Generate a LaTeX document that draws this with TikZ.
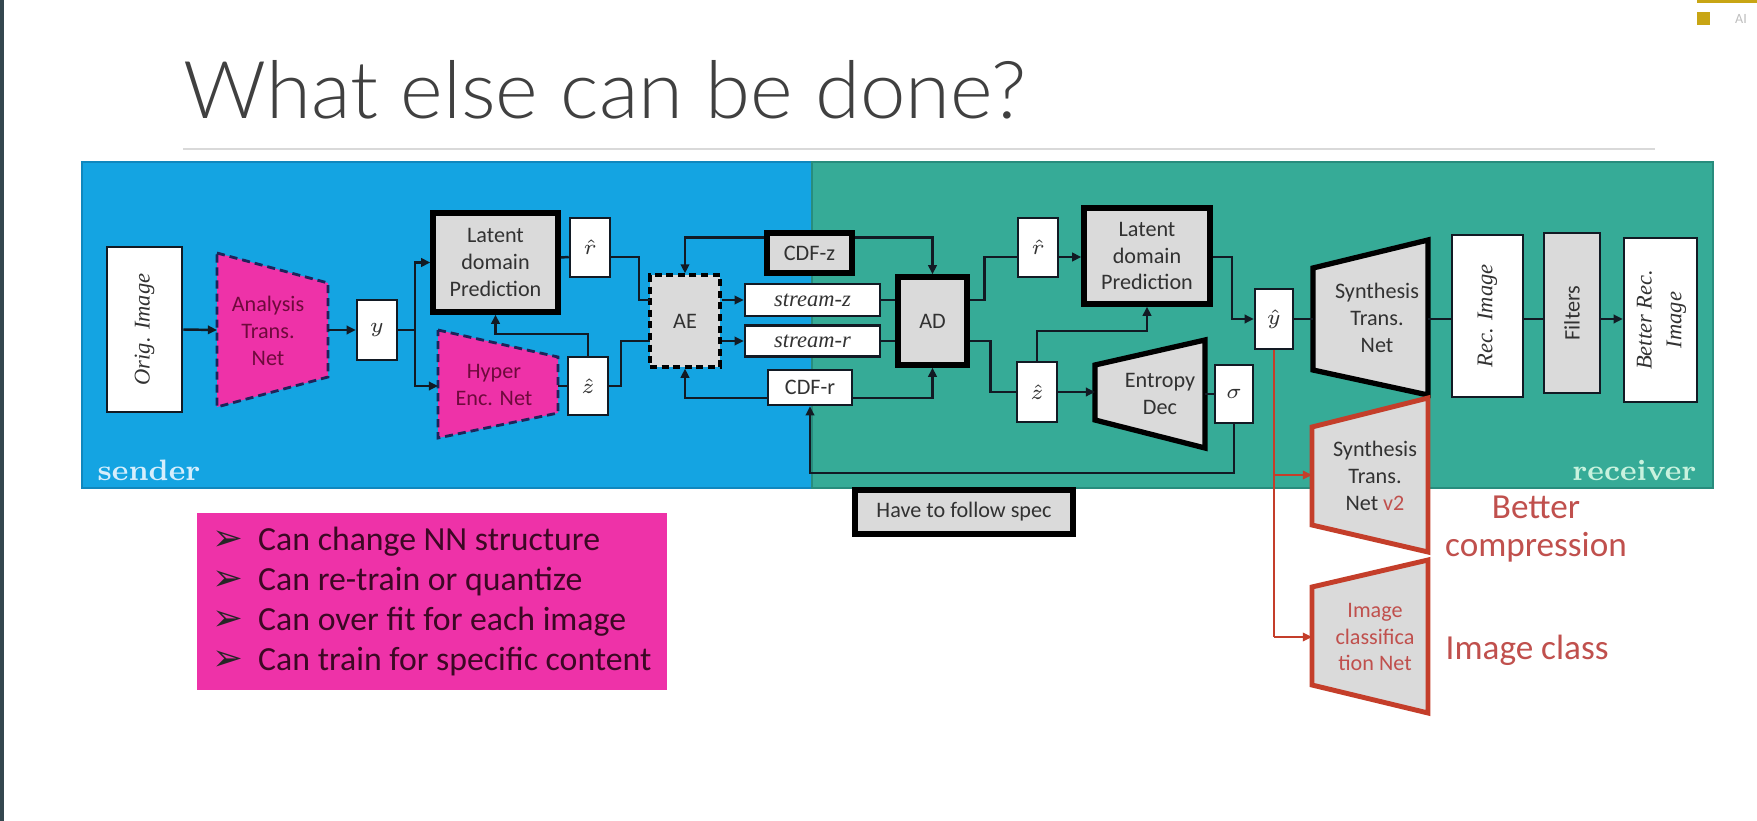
\documentclass[tikz,border=0pt]{standalone}
\usepackage{fontspec}
\newfontfamily\calib{Carlito}
\newfontfamily\dejavu{DejaVu Sans}
\newfontfamily\serifit{Liberation Serif}
\IfFontExistsTF{Lato Light}{\newfontfamily\titlefont{Lato Light}}{\newfontfamily\titlefont{Carlito}}
\usetikzlibrary{arrows.meta,calc}
\definecolor{bluep}{RGB}{20,164,226}
\definecolor{blueb}{RGB}{16,135,190}
\definecolor{greenp}{RGB}{54,171,151}
\definecolor{greenb}{RGB}{40,140,125}
\definecolor{mag}{RGB}{238,50,168}
\definecolor{magtext}{RGB}{110,10,60}
\definecolor{bullettext}{RGB}{60,8,36}
\definecolor{boxgray}{RGB}{218,218,218}
\definecolor{lined}{RGB}{18,26,36}
\definecolor{redc}{RGB}{192,80,77}
\definecolor{redb}{RGB}{196,62,42}
\definecolor{navyd}{RGB}{30,36,90}
\definecolor{titlec}{RGB}{64,64,64}
\definecolor{rulec}{RGB}{217,217,217}
\definecolor{stripc}{RGB}{52,71,79}
\definecolor{goldc}{RGB}{200,165,20}
\definecolor{senderc}{RGB}{214,238,252}
\definecolor{receiverc}{RGB}{200,242,222}
\definecolor{txtg}{RGB}{50,50,50}
\newcommand\blt{\makebox[8pt][l]{\dejavu\fontsize{10.5}{11}\selectfont\color{black!85}➢}\hspace{5pt}}
\begin{document}
\begin{tikzpicture}[x=0.01cm,y=-0.01cm,
  lbl/.style={font=\calib\fontsize{6.3}{7.6}\selectfont, text=txtg, align=center},
  mlbl/.style={font=\fontsize{6.5}{8}\selectfont, text=txtg},
  ilbl/.style={font=\serifit\itshape\fontsize{6.4}{8.5}\selectfont, text=txtg},
  wbox/.style={draw=lined, line width=0.7pt, fill=white, inner sep=0pt},
  gbox/.style={wbox, fill=boxgray},
  tbox/.style={draw=black, line width=1.5pt, fill=boxgray, inner sep=0pt},
  aebox/.style={fill=boxgray, draw=black, line width=0.9pt, dash pattern=on 2pt off 1.3pt,
     preaction={draw=white!85!cyan, line width=0.9pt}, inner sep=0pt},
  conn/.style={draw=lined, line width=0.7pt},
  arr/.style={conn, -{Triangle[length=2.6pt,width=2.4pt]}},
  redline/.style={draw=redb, line width=0.6pt},
  redarr/.style={redline, -{Triangle[length=2.6pt,width=2.4pt]}},
  magtrap/.style={fill=mag, draw=navyd, line width=0.8pt, dash pattern=on 2.3pt off 1.4pt},
  graytrap/.style={fill=boxgray, draw=black, line width=1.5pt, line join=miter},
  redtrap/.style={fill=boxgray, draw=redb, line width=1.4pt, line join=miter}
]
\useasboundingbox (0,0) rectangle (1757,821);
\fill[white] (0,0) rectangle (1757,821);
\fill[stripc] (0,0) rectangle (4,821);
\fill[goldc] (1697,0) rectangle (1757,3);
\fill[goldc] (1697,12) rectangle (1710,25);
\node[font=\calib\fontsize{4}{5}\selectfont, text=black!25, inner sep=0pt] (ai) at (1741,19) {AI};

% title
\node[anchor=base west, inner sep=0pt, text=titlec] (title) at (183,118) {\resizebox{8.42cm}{0.58cm}{\titlefont What else can be done?}};
\draw[rulec, line width=0.85pt] (183,149) -- (1655,149);

% panels
\filldraw[fill=bluep, draw=blueb, line width=0.4pt] (82,162) rectangle (812,488);
\filldraw[fill=greenp, draw=greenb, line width=0.4pt] (812,162) rectangle (1713,488);
\node[anchor=base west, inner sep=0pt, font=\bfseries\fontsize{8.4}{10}\selectfont, text=senderc] (snd) at (97,480) {sender};
\node[anchor=base east, inner sep=0pt, font=\bfseries\fontsize{8.4}{10}\selectfont, text=receiverc] (rcv) at (1697,480) {receiver};

% trapezoids
\filldraw[magtrap] (217,253) -- (328,283) -- (328,377) -- (217,407) -- cycle;
\node[lbl, text=magtext] (ana) at (268,331) {Analysis\\Trans.\\Net};
\coordinate (anaL) at (217,330); \coordinate (anaR) at (328,330);

\filldraw[magtrap] (438,330) -- (558,357) -- (558,413) -- (438,438) -- cycle;
\node[lbl, text=magtext] (hyp) at (494,385) {Hyper\\Enc. Net};
\coordinate (hypL) at (438,386); \coordinate (hypR) at (558,386);

\filldraw[graytrap] (1095,365) -- (1205,340) -- (1205,448) -- (1095,420) -- cycle;
\node[lbl] (ent) at (1160,394) {Entropy\\Dec};
\coordinate (entL) at (1095,392); \coordinate (entR) at (1205,394);

\filldraw[graytrap] (1313,268) -- (1428,240) -- (1428,395) -- (1313,370) -- cycle;
\node[lbl] (syn) at (1377,318) {Synthesis\\Trans.\\Net};
\coordinate (synL) at (1313,319); \coordinate (synR) at (1428,319);

\filldraw[redtrap] (1312,427) -- (1428,398) -- (1428,552) -- (1312,525) -- cycle;
\node[lbl] (syn2) at (1375,476) {Synthesis\\Trans.\\Net \textcolor{redc}{v2}};
\coordinate (s2L) at (1312,475);

\filldraw[redtrap] (1312,587) -- (1428,560) -- (1428,713) -- (1312,685) -- cycle;
\node[lbl, text=redc] (icls) at (1375,637) {Image\\classifica\\tion Net};
\coordinate (icL) at (1312,637);

% boxes
\node[wbox, minimum width=0.75cm, minimum height=1.65cm] (orig) at (144.5,329.5) {\rotatebox{90}{\serifit\itshape\fontsize{6.4}{7}\selectfont\color{txtg} Orig. Image}};
\node[wbox, mlbl, minimum width=0.4cm, minimum height=0.6cm] (yS) at (377,330) {$y$};
\node[tbox, lbl, minimum width=1.25cm, minimum height=0.99cm] (latS) at (495.5,262.5) {Latent\\domain\\Prediction};
\node[wbox, mlbl, minimum width=0.4cm, minimum height=0.59cm] (rhatS) at (590,247.5) {$\hat r$};
\node[wbox, mlbl, minimum width=0.4cm, minimum height=0.58cm] (zhatS) at (588,386) {$\hat z$};
\node[aebox, lbl, minimum width=0.7cm, minimum height=0.92cm] (AE) at (685,321) {AE};
\node[tbox, lbl, minimum width=0.85cm, minimum height=0.40cm] (CDFz) at (809.5,253) {CDF-z};
\node[wbox, ilbl, minimum width=1.35cm, minimum height=0.32cm] (streamz) at (812.5,300) {stream-z};
\node[wbox, ilbl, minimum width=1.35cm, minimum height=0.31cm] (streamr) at (812.5,341) {stream-r};
\node[wbox, lbl, minimum width=0.84cm, minimum height=0.35cm] (CDFr) at (810,387.5) {CDF-r};
\node[tbox, lbl, minimum width=0.69cm, minimum height=0.88cm] (AD) at (932.5,321) {AD};
\node[wbox, mlbl, minimum width=0.4cm, minimum height=0.59cm] (rhatR) at (1038,247.5) {$\hat r$};
\node[tbox, lbl, minimum width=1.26cm, minimum height=0.96cm] (latR) at (1147,256) {Latent\\domain\\Prediction};
\node[wbox, mlbl, minimum width=0.4cm, minimum height=0.6cm] (zhatR) at (1037,392) {$\hat z$};
\node[wbox, mlbl, minimum width=0.38cm, minimum height=0.58cm] (sigma) at (1234,394) {$\sigma$};
\node[wbox, mlbl, minimum width=0.38cm, minimum height=0.6cm] (yhat) at (1274,319) {$\hat y$};
\node[wbox, minimum width=0.71cm, minimum height=1.62cm] (rec) at (1487.5,316) {\rotatebox{90}{\serifit\itshape\fontsize{6.4}{7}\selectfont\color{txtg} Rec. Image}};
\node[gbox, minimum width=0.56cm, minimum height=1.60cm] (filt) at (1572,313) {\rotatebox{90}{\calib\fontsize{6.3}{7}\selectfont\color{txtg} Filters}};
\node[wbox, minimum width=0.73cm, minimum height=1.64cm] (better) at (1660.5,320) {\rotatebox{90}{\serifit\itshape\fontsize{6.4}{8.5}\selectfont\color{txtg}\begin{tabular}{@{}c@{}}Better Rec.\\Image\end{tabular}}};
\node[tbox, lbl, minimum width=2.18cm, minimum height=0.44cm] (spec) at (964,512) {Have to follow spec};

% connectors
\draw[arr] (orig.east) -- (anaL);
\draw[arr] (anaR) -- (yS.west);
\coordinate (ysp) at (415,330);
\draw[conn] (yS.east) -- (ysp);
\draw[arr] (ysp) |- (latS.west);
\draw[arr] (ysp) |- (hypL);
\draw[conn] ($(latS.east)+(0,-5)$) -- ($(rhatS.west)+(0,9.5)$);
\draw[conn] (hypR) -- (zhatS.west);
\draw[arr] (zhatS.north) -- ++(0,-22) -| (latS.south);
\coordinate (AEin1) at (650,300);
\coordinate (AEin2) at (650,341);
\draw[conn] ($(rhatS.east)+(0,9.5)$) -- ++(28,0) |- (AEin1);
\draw[conn] (zhatS.east) -- ++(12,0) |- (AEin2);
\draw[arr] ($(CDFz.north west)+(0,7)$) -| (AE.north);
\draw[arr] ($(CDFr.south west)+(0,-8)$) -| (AE.south);
\draw[arr] (AEin1 -| AE.east) -- (streamz.west);
\draw[arr] (AEin2 -| AE.east) -- (streamr.west);
\draw[conn] (streamz.east) -- (streamz.east -| AD.west);
\draw[conn] (streamr.east) -- (streamr.east -| AD.west);
\draw[arr] ($(CDFz.north east)+(0,7)$) -| (AD.north);
\draw[arr] ($(CDFr.south east)+(0,-8)$) -| (AD.south);
\draw[conn] (streamz.east -| AD.east) -- ++(15,0) |- ($(rhatR.west)+(0,9.5)$);
\draw[arr] ($(rhatR.east)+(0,9.5)$) -- ($(latR.west)+(0,1)$);
\draw[conn] (streamr.east -| AD.east) -- ++(21,0) |- (zhatR.west);
\draw[arr] (zhatR.north) -- ++(0,-30) -| (latR.south);
\draw[arr] (zhatR.east) -- (entL);
\draw[conn] (entR) -- (sigma.west);
\draw[arr] (sigma.south) -- ++(0,49) -| (CDFr.south);
\draw[arr] ($(latR.east)+(0,1)$) -| ($(yhat.west)+(-22,0)$) -- (yhat.west);
\draw[conn] (yhat.east) -- (synL);
\draw[conn] (synR) -- (synR -| rec.west);
\draw[conn] (synR -| rec.east) -- (synR -| filt.west);
\draw[arr] (synR -| filt.east) -- (synR -| better.west);
\draw[redline] (yhat.south) -- (yhat.south |- icL);
\draw[redarr] (yhat.south |- s2L) -- (s2L);
\draw[redarr] (yhat.south |- icL) -- (icL);

% red annotations
\node[font=\calib\fontsize{10}{10.8}\selectfont, text=redc, align=center] (bc) at (1536,529) {Better\\compression};
\node[anchor=base west, inner sep=0pt, font=\calib\fontsize{10}{12}\selectfont, text=redc] (icText) at (1445,659) {Image class};

% bullet box
\node[fill=mag, minimum width=4.7cm, minimum height=1.77cm, align=left, font=\calib\fontsize{9.6}{11.4}\selectfont, text=bullettext] (bul) at (432,601.5) {\blt Can change NN structure\\ \blt Can re-train or quantize\\ \blt Can over fit for each image\\ \blt Can train for specific content};
\end{tikzpicture}
\end{document}
